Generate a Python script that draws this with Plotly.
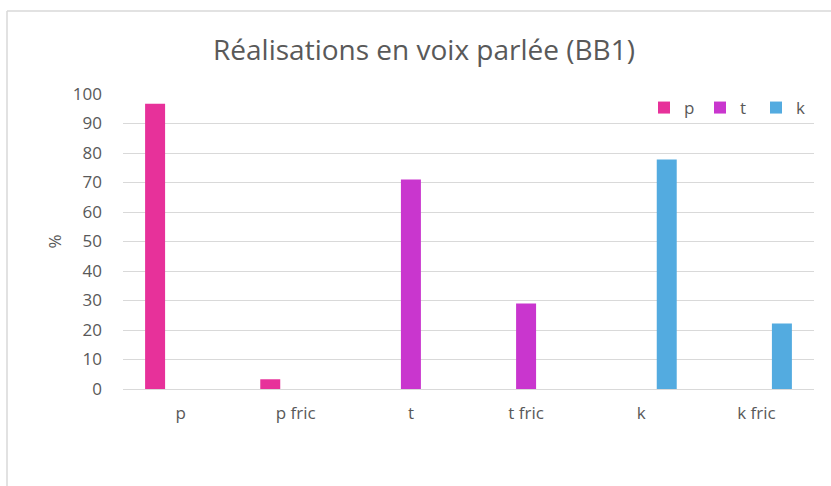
import plotly.graph_objects as go

categories = ["p", "p fric", "t", "t fric", "k", "k fric"]
series_names = ["p", "t", "k"]
p_values = [96.7, 3.3, None, None, None, None]
t_values = [None, None, 71.0, 29.0, None, None]
k_values = [None, None, None, None, 77.8, 22.2]
colors = ["#E7319A", "#C936CE", "#53ABE0"]
y_ticks = list(range(0, 101, 10))

W, H = 831, 486
L, R, T, B = 123, W - 814, 94, H - 389
pw, ph = W - L - R, H - T - B

def px_x(px):
    return (px - L) / pw

def px_y(py):
    return (H - B - py) / ph

fig = go.Figure()
for name, vals, col in zip(series_names, [p_values, t_values, k_values], colors):
    fig.add_trace(go.Bar(x=categories, y=vals, name=name, marker=dict(color=col, line=dict(width=0))))

font = "'Open Sans', sans-serif"
grey = "#595959"
fig.update_layout(
    width=W, height=H,
    margin=dict(l=L, r=R, t=T, b=B),
    paper_bgcolor="white", plot_bgcolor="white",
    barmode="group", bargap=0.336, bargroupgap=0.216,
    title=dict(text="Réalisations en voix parlée (BB1)", xref="container", x=424 / W, xanchor="center",
               yref="container", y=1 - 50 / H, yanchor="middle",
               font=dict(family=font, size=28, color=grey)),
    font=dict(family=font, color=grey),
    showlegend=True,
    legend=dict(orientation="h", x=px_x(812), xanchor="right", y=px_y(108), yanchor="middle",
                font=dict(size=17, color=grey), bgcolor="rgba(0,0,0,0)",
                entrywidth=11, entrywidthmode="pixels", itemwidth=30, tracegroupgap=0),
    xaxis=dict(showgrid=False, showline=True, linecolor="#D9D9D9", linewidth=1,
               tickfont=dict(size=17, color=grey), ticks="", ticklabelstandoff=9),
    yaxis=dict(range=[0, 100], tickvals=y_ticks, showgrid=True, gridcolor="#D9D9D9", gridwidth=1,
               zeroline=False, showline=False, tickfont=dict(size=17, color=grey), ticks="",
               ticklabelstandoff=20,
               title=dict(text="%", font=dict(size=17, color=grey), standoff=6)),
    shapes=[
        dict(type="line", xref="paper", yref="paper", x0=px_x(7), x1=px_x(840), y0=px_y(11), y1=px_y(11),
             line=dict(color="#D9D9D9", width=1.5)),
        dict(type="line", xref="paper", yref="paper", x0=px_x(7), x1=px_x(7), y0=px_y(11), y1=px_y(495),
             line=dict(color="#D9D9D9", width=1.5)),
    ],
)
fig.write_html("out.html", config={"displayModeBar": False},
               post_script="document.body.style.margin='0';document.body.style.overflow='hidden';")
